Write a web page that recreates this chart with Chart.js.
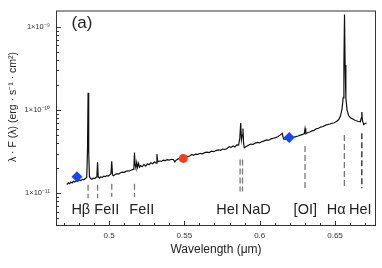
<!DOCTYPE html>
<html>
<head>
<meta charset="utf-8">
<script src="https://cdn.jsdelivr.net/npm/chart.js@4.4.0/dist/chart.umd.min.js"></script>
<style>
  html, body { margin: 0; padding: 0; background: #fff; }
  #wrap { width: 382px; height: 268px; }
</style>
</head>
<body>
<div id="wrap"><canvas id="spec" width="382" height="268"></canvas></div>
<script>
// spectrum (wavelength in um, lambda*F in erg/s/cm2)
var wl = [0.4720,0.4730,0.4738,0.4747,0.4755,0.4763,0.4772,0.4782,0.4792,0.4803,0.4813,0.4823,0.4833,0.4843,0.4852,0.4857,0.4861,0.4865,0.4870,0.4878,
  0.4886,0.4896,0.4906,0.4915,0.4920,0.4924,0.4928,0.4935,0.4945,0.4955,0.4965,0.4975,0.4985,0.4995,0.5005,0.5013,0.5018,0.5023,0.5030,0.5040,
  0.5052,0.5064,0.5076,0.5088,0.5100,0.5112,0.5124,0.5136,0.5148,0.5160,0.5165,0.5169,0.5173,0.5178,0.5184,0.5189,0.5196,0.5202,0.5210,0.5220,
  0.5232,0.5243,0.5255,0.5266,0.5278,0.5290,0.5302,0.5312,0.5318,0.5323,0.5335,0.5348,0.5360,0.5373,0.5386,0.5400,0.5415,0.5428,0.5436,0.5445,
  0.5460,0.5475,0.5490,0.5505,0.5520,0.5535,0.5550,0.5562,0.5575,0.5590,0.5605,0.5620,0.5635,0.5650,0.5665,0.5680,0.5695,0.5710,0.5725,0.5740,
  0.5755,0.5770,0.5785,0.5798,0.5810,0.5823,0.5835,0.5848,0.5860,0.5868,0.5874,0.5879,0.5884,0.5889,0.5893,0.5898,0.5910,0.5925,0.5940,0.5955,
  0.5970,0.5985,0.6000,0.6015,0.6030,0.6045,0.6060,0.6075,0.6090,0.6105,0.6120,0.6135,0.6150,0.6158,0.6168,0.6180,0.6195,0.6210,0.6225,0.6240,
  0.6255,0.6270,0.6285,0.6296,0.6301,0.6306,0.6318,0.6332,0.6346,0.6360,0.6375,0.6390,0.6405,0.6420,0.6435,0.6450,0.6465,0.6480,0.6495,0.6510,
  0.6525,0.6537,0.6547,0.6554,0.6559,0.6563,0.6567,0.6572,0.6580,0.6590,0.6602,0.6618,0.6635,0.6652,0.6668,0.6674,0.6678,0.6682,0.6690,0.6700,0.6710];
var flux = [1.27e-11,1.33e-11,1.30e-11,1.36e-11,1.33e-11,1.39e-11,1.36e-11,1.41e-11,1.39e-11,1.44e-11,1.42e-11,1.47e-11,1.45e-11,1.50e-11,1.56e-11,3.2e-11,1.62e-10,3.2e-11,1.58e-11,1.50e-11,
  1.47e-11,1.52e-11,1.50e-11,1.56e-11,1.7e-11,2.36e-11,1.6e-11,1.52e-11,1.57e-11,1.55e-11,1.60e-11,1.58e-11,1.63e-11,1.61e-11,1.66e-11,1.72e-11,2.42e-11,1.66e-11,1.62e-11,1.68e-11,
  1.72e-11,1.70e-11,1.76e-11,1.79e-11,1.78e-11,1.83e-11,1.86e-11,1.85e-11,1.90e-11,1.93e-11,2.05e-11,3.08e-11,2.2e-11,2.02e-11,2.35e-11,2.05e-11,2.28e-11,2.06e-11,2.15e-11,2.08e-11,
  2.22e-11,2.12e-11,2.26e-11,2.20e-11,2.32e-11,2.26e-11,2.38e-11,2.30e-11,2.95e-11,2.38e-11,2.44e-11,2.41e-11,2.50e-11,2.47e-11,2.53e-11,2.50e-11,2.56e-11,2.53e-11,2.38e-11,2.50e-11,
  2.60e-11,2.58e-11,2.64e-11,2.70e-11,2.76e-11,2.80e-11,2.92e-11,2.86e-11,2.96e-11,2.94e-11,3.02e-11,2.98e-11,3.08e-11,3.12e-11,3.08e-11,3.20e-11,3.16e-11,3.26e-11,3.32e-11,3.28e-11,
  3.40e-11,3.36e-11,3.48e-11,3.62e-11,3.56e-11,3.70e-11,3.60e-11,3.82e-11,3.80e-11,4.6e-11,7.0e-11,4.4e-11,5.0e-11,6.0e-11,4.0e-11,3.52e-11,3.65e-11,3.78e-11,3.90e-11,3.86e-11,
  4.00e-11,4.08e-11,4.04e-11,4.18e-11,4.26e-11,4.38e-11,4.34e-11,4.50e-11,4.58e-11,4.66e-11,4.78e-11,5.00e-11,5.26e-11,4.50e-11,4.45e-11,4.55e-11,4.60e-11,4.55e-11,4.72e-11,4.80e-11,
  4.88e-11,5.00e-11,5.10e-11,5.20e-11,6.0e-11,5.2e-11,5.35e-11,5.45e-11,5.62e-11,5.70e-11,5.95e-11,6.05e-11,6.25e-11,6.35e-11,6.55e-11,6.70e-11,6.80e-11,6.95e-11,7.05e-11,7.30e-11,
  7.70e-11,8.6e-11,1.05e-10,1.4e-10,3.5e-10,1.41e-9,3.5e-10,1.4e-10,1.0e-10,8.6e-11,8.1e-11,7.8e-11,7.5e-11,7.35e-11,7.25e-11,8.0e-11,9.5e-11,7.5e-11,6.7e-11,6.9e-11,7.0e-11];

// photometric points
var blueX = [0.4787, 0.6196];
var blueY = [1.58e-11, 4.69e-11];
var redX = [0.5493];
var redY = [2.62e-11];

// line identifications: x, top and bottom of the dashed marker
var lineX   = [0.4861, 0.4924, 0.5018, 0.5169, 0.5870, 0.5886, 0.6301, 0.6562, 0.6678];
var lineTop = [1.26e-11, 1.26e-11, 1.30e-11, 1.30e-11, 2.55e-11, 2.55e-11, 3.71e-11, 5.0e-11, 5.26e-11];
var lineBot = [8.7e-12, 8.7e-12, 9.0e-12, 9.0e-12, 1.05e-11, 1.05e-11, 1.11e-11, 1.14e-11, 1.15e-11];
var lineCol = ['#777','#777','#777','#777','#777','#777','#777','#777','#222'];

var labelNames = ['H\u03b2', 'FeII', 'FeII', 'HeI', 'NaD', '[OI]', 'H\u03b1', 'HeI'];
var labelX = [0.48126, 0.49852, 0.52175, 0.57863, 0.59774, 0.63026, 0.65084, 0.66677];
var labelY = 6.3e-12;

var xTicks = [0.5, 0.55, 0.6, 0.65];
var xTickLabels = ['0.5', '0.55', '0.6', '0.65'];
var yTicks = [1e-11, 1e-10, 1e-9];
var yTickLabels = ['1\u00d710\u207b\u00b9\u00b9', '1\u00d710\u207b\u00b9\u2070', '1\u00d710\u207b\u2079'];

var FONT = '"Liberation Sans", Arial, Helvetica, sans-serif';
Chart.defaults.font.family = FONT;

var spectrum = [];
for (var i = 0; i < wl.length; i++) spectrum.push({x: wl[i], y: flux[i]});

var datasets = [];
for (var j = 0; j < lineX.length; j++) {
  datasets.push({
    data: [{x: lineX[j], y: lineTop[j]}, {x: lineX[j], y: lineBot[j]}],
    showLine: true, borderColor: lineCol[j], borderWidth: 1.3,
    borderDash: [6, 3], pointRadius: 0, order: 5
  });
}
datasets.push({
  data: spectrum, showLine: true, borderColor: '#111', borderWidth: 1.2,
  pointRadius: 0, tension: 0, order: 3
});
datasets.push({
  data: blueX.map(function (v, k) { return {x: v, y: blueY[k]}; }),
  pointStyle: 'rectRot', pointRadius: 5.5, backgroundColor: '#1846ff',
  borderWidth: 0, order: 1
});
datasets.push({
  data: redX.map(function (v, k) { return {x: v, y: redY[k]}; }),
  pointStyle: 'circle', pointRadius: 4.5, backgroundColor: '#ff3a1c',
  borderWidth: 0, order: 1
});

var frame = {
  id: 'frame',
  afterDatasetsDraw: function (chart) {
    var ctx = chart.ctx, a = chart.chartArea;
    var xs = chart.scales.x, ys = chart.scales.y;
    ctx.save();
    ctx.strokeStyle = '#333';
    ctx.lineWidth = 1;
    ctx.beginPath();
    // x ticks, inward
    for (var t = 47; t <= 67; t++) {
      var v = t / 100;
      var px = Math.round(xs.getPixelForValue(v)) + 0.5;
      var len = (t % 5 === 0) ? 5 : 3;
      ctx.moveTo(px, a.bottom);
      ctx.lineTo(px, a.bottom - len);
    }
    // y ticks, log minor
    for (var e = -12; e <= -9; e++) {
      for (var m = 1; m <= 9; m++) {
        var val = m * Math.pow(10, e);
        if (val < ys.min || val > ys.max) continue;
        var py = Math.round(ys.getPixelForValue(val)) + 0.5;
        var l = (m === 1) ? 5 : 3;
        ctx.moveTo(a.left, py);
        ctx.lineTo(a.left + l, py);
      }
    }
    ctx.stroke();
    ctx.strokeRect(a.left + 0.5, a.top + 0.5, a.right - a.left - 1, a.bottom - a.top - 1);

    // line names
    ctx.fillStyle = '#222';
    ctx.font = '14.5px ' + FONT;
    ctx.textAlign = 'center';
    ctx.textBaseline = 'middle';
    for (var n = 0; n < labelNames.length; n++) {
      ctx.fillText(labelNames[n], xs.getPixelForValue(labelX[n]), ys.getPixelForValue(labelY));
    }
    ctx.font = '17px ' + FONT;
    ctx.fillText('(a)', 82, 23);

    // axis titles
    ctx.font = '12px ' + FONT;
    ctx.fillText('Wavelength (\u03bcm)', (a.left + a.right) / 2, 250);
    ctx.save();
    ctx.translate(13.5, 107);
    ctx.rotate(-Math.PI / 2);
    ctx.font = '10.5px ' + FONT;
    ctx.fillText('\u03bb \u00b7 F (\u03bb) (erg \u00b7 s\u207b\u00b9 \u00b7 cm\u00b2)', 0, 0);
    ctx.restore();
    ctx.restore();
  }
};

new Chart(document.getElementById('spec'), {
  type: 'scatter',
  data: { datasets: datasets },
  options: {
    responsive: false,
    animation: false,
    devicePixelRatio: 1,
    layout: { padding: { top: 3, right: 6, left: 0, bottom: 0 } },
    plugins: { legend: { display: false }, tooltip: { enabled: false } },
    scales: {
      x: {
        type: 'linear', min: 0.4648, max: 0.6772,
        afterBuildTicks: function (s) { s.ticks = xTicks.map(function (v) { return {value: v}; }); },
        afterFit: function (s) { s.height = 42; },
        grid: { display: false, drawTicks: false },
        border: { display: false },
        ticks: {
          padding: 5, color: '#333', font: { size: 8 }, maxRotation: 0,
          callback: function (v) { var k = xTicks.indexOf(v); return k < 0 ? '' : xTickLabels[k]; }
        }
      },
      y: {
        type: 'logarithmic', min: 4.03e-12, max: 1.58e-9,
        afterBuildTicks: function (s) { s.ticks = yTicks.map(function (v) { return {value: v}; }); },
        afterFit: function (s) { s.width = 56; },
        grid: { display: false, drawTicks: false },
        border: { display: false },
        ticks: {
          padding: 6, color: '#333', font: { size: 7.5 },
          callback: function (v) { var k = yTicks.indexOf(v); return k < 0 ? '' : yTickLabels[k]; }
        }
      }
    }
  },
  plugins: [frame]
});
</script>
</body>
</html>
